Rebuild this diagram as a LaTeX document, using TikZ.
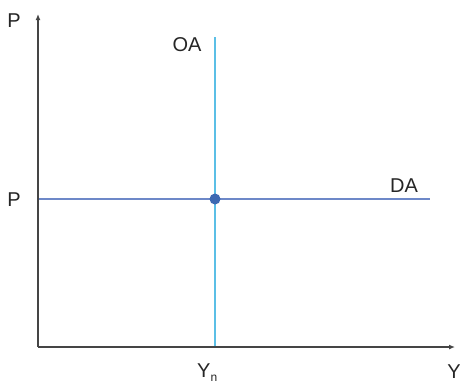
\documentclass[tikz,border=0pt]{standalone}
\usepackage{fontspec}
\setmainfont{Liberation Sans}
\usetikzlibrary{arrows.meta}
\definecolor{axisc}{HTML}{454545}
\definecolor{oac}{HTML}{5BBFE6}
\definecolor{dac}{HTML}{6D88C8}
\definecolor{dotc}{HTML}{3D68B2}
\begin{document}
\begin{tikzpicture}[x=1pt,y=-1pt,
  axis/.style={draw=axisc,line width=1.5pt,-{Latex[length=6pt,width=5pt]}},
  lbl/.style={font=\fontsize{20}{22}\selectfont,text=black!85,inner sep=0pt},
  oaline/.style={draw=oac,line width=1.8pt},
  daline/.style={draw=dac,line width=1.6pt}]
\useasboundingbox (0,0) rectangle (460,384);
\coordinate (O) at (38,347);
\coordinate (ytop) at (38,14);
\coordinate (xend) at (455,347);
\coordinate (oatop) at (215,37);
\coordinate (oabot) at (215,347);
\coordinate (dal) at (38,199);
\coordinate (dar) at (430,199);
\draw[oaline] (oatop) -- (oabot);
\draw[daline] (dal) -- (dar);
\draw[axis] (O) -- (ytop);
\draw[axis] (O) -- (xend);
\node[circle,fill=dotc,inner sep=0pt,minimum size=11pt] (eq) at (215,199) {};
\node[lbl] (pt) at (14,21) {P};
\node[lbl] (pm) at (14,200) {P};
\node[lbl] (oa) at (187,45) {OA};
\node[lbl] (da) at (404,186) {DA};
\node[lbl,anchor=base west] (yn) at (197,377) {Y\raisebox{-4pt}{\fontsize{12}{14}\selectfont n}};
\node[lbl] (y) at (454,372) {Y};
\end{tikzpicture}
\end{document}
